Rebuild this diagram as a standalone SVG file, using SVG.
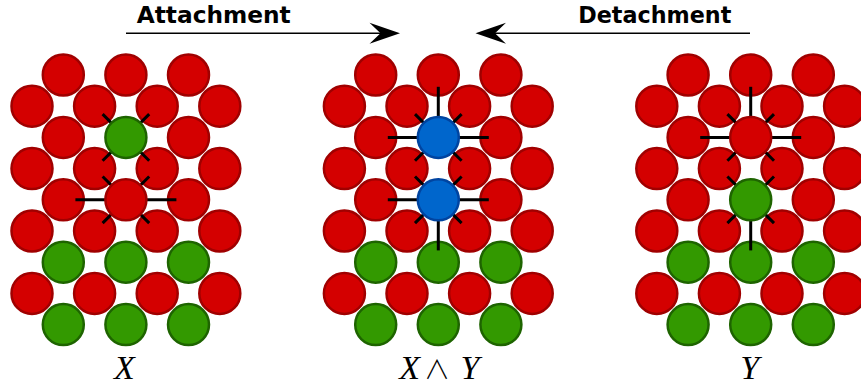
<svg xmlns="http://www.w3.org/2000/svg" xmlns:xlink="http://www.w3.org/1999/xlink" width="861" height="387" viewBox="0 0 861 387">
  <style>
    .red { fill: #d40000; stroke: #a00000; stroke-width: 2.5; }
    .green { fill: #339900; stroke: #1e6400; stroke-width: 2.5; }
    .blue { fill: #0066cc; stroke: #0044a0; stroke-width: 2.5; }
    .bond { stroke: #000; stroke-width: 3; fill: none; }
    .flow { stroke: #000; stroke-width: 1.6; fill: none; }
    .head { fill: #000; stroke: none; }
    .title { font-family: "DejaVu Sans", "Liberation Sans", sans-serif; font-weight: bold; font-size: 23.5px; fill: #000; }
    .math { font-family: "Liberation Serif", "DejaVu Serif", serif; font-style: italic; font-size: 34px; fill: #000; }
    .op { font-family: "Noto Sans CJK JP", "DejaVu Serif", sans-serif; font-weight: 300; font-style: normal; font-size: 26px; fill: #000; }
  </style>
  <defs>
    <circle id="atom" r="20.5"/>
    <!-- four short diagonal bond stubs around an atom centre -->
    <path id="diag" d="M -23.3 -23.3 L 23.3 23.3 M 23.3 -23.3 L -23.3 23.3"/>
    <path id="horiz" d="M -50.5 0 H 50.5"/>
    <path id="up" d="M 0 0 V -50.6"/>
    <path id="down" d="M 0 0 V 50.6"/>
    <!-- lattice rows that are shared by all three panels -->
    <g id="lattice-base">
      <use href="#atom" class="red" x="63.3" y="75"/>
      <use href="#atom" class="red" x="125.9" y="75"/>
      <use href="#atom" class="red" x="188.5" y="75"/>
      <use href="#atom" class="red" x="32" y="106.2"/>
      <use href="#atom" class="red" x="94.6" y="106.2"/>
      <use href="#atom" class="red" x="157.2" y="106.2"/>
      <use href="#atom" class="red" x="219.8" y="106.2"/>
      <use href="#atom" class="red" x="63.3" y="137.4"/>
      <use href="#atom" class="red" x="188.5" y="137.4"/>
      <use href="#atom" class="red" x="32" y="168.6"/>
      <use href="#atom" class="red" x="94.6" y="168.6"/>
      <use href="#atom" class="red" x="157.2" y="168.6"/>
      <use href="#atom" class="red" x="219.8" y="168.6"/>
      <use href="#atom" class="red" x="63.3" y="199.8"/>
      <use href="#atom" class="red" x="188.5" y="199.8"/>
      <use href="#atom" class="red" x="32" y="231"/>
      <use href="#atom" class="red" x="94.6" y="231"/>
      <use href="#atom" class="red" x="157.2" y="231"/>
      <use href="#atom" class="red" x="219.8" y="231"/>
      <use href="#atom" class="green" x="63.3" y="262.2"/>
      <use href="#atom" class="green" x="125.9" y="262.2"/>
      <use href="#atom" class="green" x="188.5" y="262.2"/>
      <use href="#atom" class="red" x="32" y="293.4"/>
      <use href="#atom" class="red" x="94.6" y="293.4"/>
      <use href="#atom" class="red" x="157.2" y="293.4"/>
      <use href="#atom" class="red" x="219.8" y="293.4"/>
      <use href="#atom" class="green" x="63.3" y="324.6"/>
      <use href="#atom" class="green" x="125.9" y="324.6"/>
      <use href="#atom" class="green" x="188.5" y="324.6"/>
    </g>
  </defs>

  <rect width="861" height="387" fill="#fff"/>

  <!-- process arrows -->
  <g id="connectors">
    <path class="flow" d="M 126 33.3 H 382"/>
    <path class="head" d="M 400 33.3 L 369.5 22.8 L 380.5 33.3 L 369.5 43.8 Z"/>
    <path class="flow" d="M 750 33.3 H 494"/>
    <path class="head" d="M 475.5 33.3 L 506 22.8 L 495 33.3 L 506 43.8 Z"/>
  </g>

  <g id="label-attachment">
    <text class="title" x="136.7" y="23" textLength="154" lengthAdjust="spacingAndGlyphs">Attachment</text>
  </g>
  <g id="label-detachment">
    <text class="title" x="578.3" y="23" textLength="153" lengthAdjust="spacingAndGlyphs">Detachment</text>
  </g>

  <!-- panel X -->
  <g id="panel-x">
    <use href="#lattice-base"/>
    <g class="bond">
      <use href="#diag" x="125.9" y="137.4"/>
      <use href="#diag" x="125.9" y="199.8"/>
      <use href="#horiz" x="125.9" y="199.8"/>
    </g>
    <use href="#atom" class="green" x="125.9" y="137.4"/>
    <use href="#atom" class="red" x="125.9" y="199.8"/>
    <text class="math" x="124.5" y="378.8" text-anchor="middle">X</text>
  </g>

  <!-- panel X ∧ Y -->
  <g id="panel-xy" transform="translate(312.4 0)">
    <use href="#lattice-base"/>
    <g class="bond">
      <use href="#diag" x="125.9" y="137.4"/>
      <use href="#horiz" x="125.9" y="137.4"/>
      <use href="#up" x="125.9" y="137.4"/>
      <use href="#diag" x="125.9" y="199.8"/>
      <use href="#horiz" x="125.9" y="199.8"/>
      <use href="#down" x="125.9" y="199.8"/>
    </g>
    <use href="#atom" class="blue" x="125.9" y="137.4"/>
    <use href="#atom" class="blue" x="125.9" y="199.8"/>
  </g>
  <g id="label-xy">
    <text class="math" x="409.7" y="378.8" text-anchor="middle">X</text>
    <text class="op" x="437" y="378.8" text-anchor="middle">∧</text>
    <text class="math" x="470" y="378.8" text-anchor="middle">Y</text>
  </g>

  <!-- panel Y -->
  <g id="panel-y" transform="translate(624.8 0)">
    <use href="#lattice-base"/>
    <g class="bond">
      <use href="#diag" x="125.9" y="137.4"/>
      <use href="#horiz" x="125.9" y="137.4"/>
      <use href="#up" x="125.9" y="137.4"/>
      <use href="#diag" x="125.9" y="199.8"/>
      <use href="#down" x="125.9" y="199.8"/>
    </g>
    <use href="#atom" class="red" x="125.9" y="137.4"/>
    <use href="#atom" class="green" x="125.9" y="199.8"/>
  </g>
  <g id="label-y">
    <text class="math" x="749.7" y="378.8" text-anchor="middle">Y</text>
  </g>
</svg>
